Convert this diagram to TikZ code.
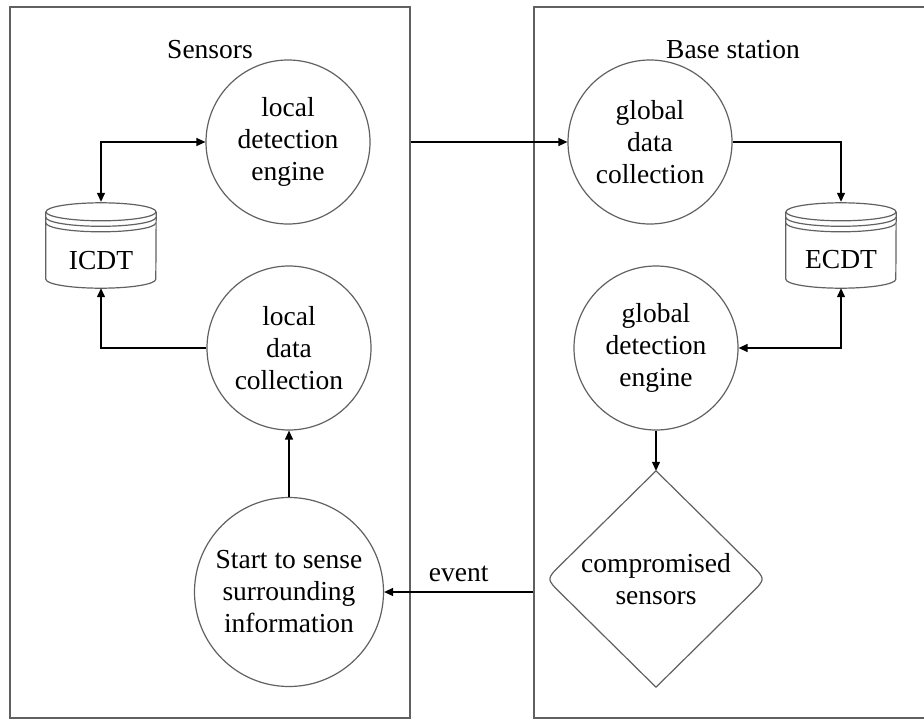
\documentclass[tikz,border=0pt]{standalone}
\usepackage{fontspec}
\setmainfont{Liberation Serif}
\usetikzlibrary{arrows.meta,calc}
\definecolor{shapegray}{gray}{0.38}
\tikzset{
  shapeline/.style={draw=shapegray, line width=1.2pt},
  txt/.style={font=\fontsize{27.5}{32}\selectfont, align=center, inner sep=0pt},
  proc/.style={shapeline, txt, circle, minimum size=164pt},
  bigproc/.style={shapeline, txt, circle, minimum size=189pt},
  dbnode/.style={txt, rectangle, minimum width=110pt, minimum height=86pt},
  panel/.style={shapeline, rectangle, inner sep=0pt},
  flow/.style={draw=black, line width=1.3pt, -{Triangle[length=9pt,width=8pt]}},
  flowboth/.style={draw=black, line width=1.3pt, {Triangle[length=9pt,width=8pt]}-{Triangle[length=9pt,width=8pt]}},
}
\newcommand\dbcyl[1]{%
  \draw[shapeline] ($(#1.north)+(0,10)$) ellipse[x radius=55pt, y radius=9pt];
  \draw[shapeline] ($(#1.north west)+(0,15.5)$) arc[start angle=180, end angle=360, x radius=55pt, y radius=9pt];
  \draw[shapeline] ($(#1.north west)+(0,21)$) arc[start angle=180, end angle=360, x radius=55pt, y radius=9pt];
  \draw[shapeline] ($(#1.north west)+(0,10)$) -- ($(#1.south west)+(0,-9)$)
    arc[start angle=180, end angle=360, x radius=55pt, y radius=9pt]
    -- ($(#1.north east)+(0,10)$);
}
\begin{document}
\begin{tikzpicture}[x=1pt, y=-1pt]
\useasboundingbox (0,0) rectangle (924,720);
\clip (0,0) rectangle (924,720);
\fill[white] (0,0) rectangle (924,720);

% panels
\node[panel, minimum width=400pt, minimum height=711pt] (sensorsbox) at (210,362.5) {};
\node[panel, minimum width=401pt, minimum height=711pt] (basebox) at (734.5,362.5) {};
\node[txt] (sensorslabel) at (210,50) {Sensors};
\node[txt] (baselabel) at (733,50) {Base station};

% sensors side
\node[proc] (lde) at (288,142) {local\\detection\\engine};
\node[dbnode, label={[txt, yshift=-16pt]center:ICDT}] (icdt) at (101,245) {};
\dbcyl{icdt}
\node[proc] (ldc) at (289,348) {local\\data\\collection};
\node[bigproc] (start) at (289,592) {Start to sense\\surrounding\\information};

% base station side
\node[proc] (gdc) at (650,142) {global\\data\\collection};
\node[dbnode, label={[txt, yshift=-15pt]center:ECDT}] (ecdt) at (841,245) {};
\dbcyl{ecdt}
\node[proc] (gde) at (656,348) {global\\detection\\engine};
\node[txt, rectangle, minimum width=219pt, minimum height=216pt] (dia) at (656,579) {compromised\\sensors};
\draw[shapeline, line join=round]
  (dia.north) -- ($(dia.east)!0.13!(dia.north)$)
  .. controls (dia.east) .. ($(dia.east)!0.13!(dia.south)$)
  -- (dia.south) -- ($(dia.west)!0.13!(dia.south)$)
  .. controls (dia.west) .. ($(dia.west)!0.13!(dia.north)$)
  -- cycle;

% connectors
\draw[flowboth] (icdt.north) |- (lde.west);
\draw[flow] (ldc.west) -| (icdt.south);
\draw[flow] (start.north) -- (ldc.south);
\draw[flow] (sensorsbox.east |- gdc.west) -- (gdc.west);
\draw[flow] (gdc.east) -| (ecdt.north);
\draw[flowboth] (ecdt.south) |- (gde.east);
\draw[flow] (gde.south) -- (dia.north);
\draw[flow] (basebox.west |- start.east) -- (start.east)
  node[midway, above=10pt, txt] (eventlabel) {event};
\end{tikzpicture}
\end{document}
